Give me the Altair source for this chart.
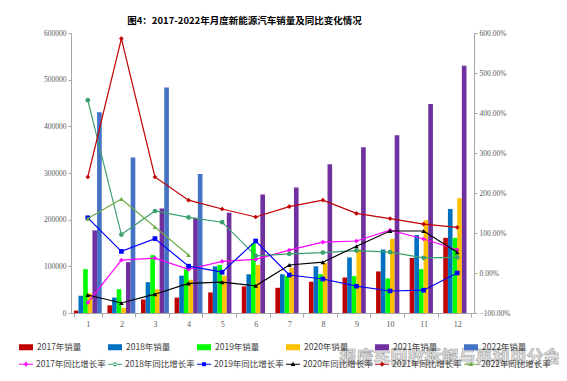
import altair as alt
import pandas as pd

months = list(range(1, 13))

sales_names = ["2017年销量", "2018年销量", "2019年销量", "2020年销量", "2021年销量", "2022年销量"]
bar_colors = ["#C00000", "#0070C0", "#00FF00", "#FFC000", "#7030A0", "#4472C4"]

sales_2017 = [5000, 16500, 29000, 33000, 44000, 57000, 54000, 67000, 76000, 89000, 118000, 161000]
sales_2018 = [37000, 33000, 66000, 80000, 100000, 83000, 83000, 100000, 119000, 136000, 167000, 223000]
sales_2019 = [94000, 51000, 124000, 94000, 103000, 150000, 79000, 83000, 79000, 74000, 94000, 161000]
sales_2020 = [42000, 11000, 51000, 71000, 80000, 103000, 97000, 107000, 136000, 159000, 199000, 246000]
sales_2021 = [177000, 109000, 224000, 204000, 215000, 254000, 269000, 319000, 355000, 381000, 448000, 530000]
sales_2022 = [430000, 333000, 483000, 298000]

rate_names = ["2017年同比增长率", "2018年同比增长率", "2019年同比增长率",
              "2020年同比增长率", "2021年同比增长率", "2022年同比增长率"]
line_colors = ["#FF00FF", "#3CA06E", "#0000FF", "#000000", "#C00000", "#70AD47"]
marker_shapes = ["diamond", "circle", "square", "triangle-up", "diamond", "triangle-up"]

# percent values
rate_2017 = [-74, 32, 37, 9, 29, 34, 57, 77, 80, 107, 85, 58]
rate_2018 = [432, 96, 155, 139, 127, 43, 48, 51, 56, 52, 38, 39]
rate_2019 = [138, 54, 86, 17, 2, 80, -5, -15, -33, -45, -43, 0]
rate_2020 = [-55, -75, -53, -26, -23, -32, 20, 27, 67, 105, 105, 52]
rate_2021 = [240, 586, 240, 182, 160, 140, 166, 182, 149, 136, 122, 114]
rate_2022 = [136, 185, 115, 45]

left_ticks = [0, 100000, 200000, 300000, 400000, 500000, 600000]
right_ticks = [-1, 0, 1, 2, 3, 4, 5, 6]

title_text = "图4：2017-2022年月度新能源汽车销量及同比变化情况"
watermark = "报废车回收拆解与再利用分会"

sales_all = [sales_2017, sales_2018, sales_2019, sales_2020, sales_2021, sales_2022]
rates_all = [rate_2017, rate_2018, rate_2019, rate_2020, rate_2021, rate_2022]

bar_rows = []
for name, vals in zip(sales_names, sales_all):
    for m, v in zip(months, vals):
        bar_rows.append({"month": m, "year": name, "sales": v})
bar_df = pd.DataFrame(bar_rows)

line_rows = []
for name, vals in zip(rate_names, rates_all):
    for m, v in zip(months, vals):
        line_rows.append({"month": m, "series": name, "rate": v / 100.0})
line_df = pd.DataFrame(line_rows)

AX_FONT = "Liberation Serif"
LBL_COLOR = "#595959"
AX_COLOR = "#A6A6A6"
CJK = "Noto Sans CJK SC"

x_scale = alt.Scale(paddingInner=0.17, paddingOuter=0.085)
x_axis = alt.Axis(title=None, labelAngle=0, tickBand="extent", tickSize=4,
                  labelFont=AX_FONT, labelFontSize=8, labelColor=LBL_COLOR,
                  domainColor=AX_COLOR, tickColor=AX_COLOR, labelPadding=3, grid=False)

bars = alt.Chart(bar_df).mark_bar().encode(
    x=alt.X("month:O", scale=x_scale, axis=x_axis),
    xOffset=alt.XOffset("year:N", scale=alt.Scale(domain=sales_names, paddingInner=0, paddingOuter=0)),
    y=alt.Y("sales:Q", scale=alt.Scale(domain=[0, 600000]),
            axis=alt.Axis(values=left_ticks, format="d", title=None, grid=False, tickSize=3,
                          labelFont=AX_FONT, labelFontSize=7.5, labelColor=LBL_COLOR,
                          domainColor=AX_COLOR, tickColor=AX_COLOR, labelPadding=2)),
    color=alt.Color("year:N", scale=alt.Scale(domain=sales_names, range=bar_colors),
                    legend=alt.Legend(orient="none", legendX=-52, legendY=307, direction="horizontal",
                                      columns=6, title=None, symbolType="M-1,-0.43H1V0.43H-1Z",
                                      symbolSize=196, symbolStrokeWidth=0, labelFontSize=8.5,
                                      labelFont=CJK, labelColor="#404040", columnPadding=26,
                                      labelOffset=4, padding=0)),
)

# legend symbols: short line with the series' marker in its middle
marker_paths = {
    "diamond": "M0,-0.34L0.34,0L0,0.34L-0.34,0Z",
    "circle": "M-0.3,0A0.3,0.3 0 1,0 0.3,0A0.3,0.3 0 1,0 -0.3,0Z",
    "square": "M-0.28,-0.28H0.28V0.28H-0.28Z",
    "triangle-up": "M0,-0.34L0.32,0.24H-0.32Z",
}
stroke_part = "M-1,-0.08H1V0.08H-1Z"
legend_paths = [stroke_part + marker_paths[s] for s in marker_shapes]

y_right = alt.Y("rate:Q", scale=alt.Scale(domain=[-1, 6]),
                axis=alt.Axis(orient="right", values=right_ticks, format=".2%", title=None, grid=False,
                              tickSize=3, labelFont=AX_FONT, labelFontSize=7.5, labelColor=LBL_COLOR,
                              domainColor=AX_COLOR, tickColor=AX_COLOR, labelPadding=2))

series_layers = []
for name, col, shp in zip(rate_names, line_colors, marker_shapes):
    sub = line_df[line_df["series"] == name]
    series_layers.append(
        alt.Chart(sub).mark_line(
            color=col, strokeWidth=1.2,
            point=alt.OverlayMarkDef(shape=shp, filled=True, size=22, color=col, opacity=1),
        ).encode(
            x=alt.X("month:O", scale=x_scale, axis=x_axis),
            y=y_right,
        )
    )

# legend-only layer (no rows drawn): carries the colour/shape scales for the rate legend
legend_layer = alt.Chart(line_df).transform_filter("datum.rate > 100").mark_point(
    filled=True, opacity=1
).encode(
    x=alt.X("month:O", scale=x_scale, axis=x_axis),
    y=y_right,
    color=alt.Color("series:N", scale=alt.Scale(domain=rate_names, range=line_colors),
                    legend=alt.Legend(orient="none", legendX=-52, legendY=324, direction="horizontal",
                                      columns=6, title=None, symbolSize=196, symbolStrokeWidth=0,
                                      symbolType=legend_paths[1],
                                      labelFontSize=8.5, labelFont=CJK, labelColor="#404040",
                                      columnPadding=2, labelOffset=3, padding=0)),
    shape=alt.Shape("series:N", scale=alt.Scale(domain=rate_names, range=legend_paths), legend=None),
)

lines = alt.layer(*series_layers, legend_layer)

wm = alt.Chart(pd.DataFrame({"t": [watermark]})).mark_text(
    font=CJK, fontSize=17, fontWeight="bold", fill="#e0e0e0", stroke="#8a8a8a",
    strokeWidth=0.6, opacity=0.85, align="center", baseline="middle"
).encode(text="t:N", x=alt.value(379), y=alt.value(325))

chart = alt.layer(bars, lines, wm).resolve_scale(
    y="independent", color="independent", shape="independent"
).properties(
    width=403, height=280,
    title=alt.TitleParams(title_text, fontSize=9.5, font=CJK, fontWeight="bold",
                          anchor="middle", dx=-28, offset=4, color="#000000"),
    autosize=alt.AutoSizeParams(type="none"),
    padding={"left": 63, "top": 25, "right": 85, "bottom": 60},
).configure_view(stroke=None).configure_axis(grid=False)

chart.save("out.html", embed_options={"renderer": "svg", "actions": False})
